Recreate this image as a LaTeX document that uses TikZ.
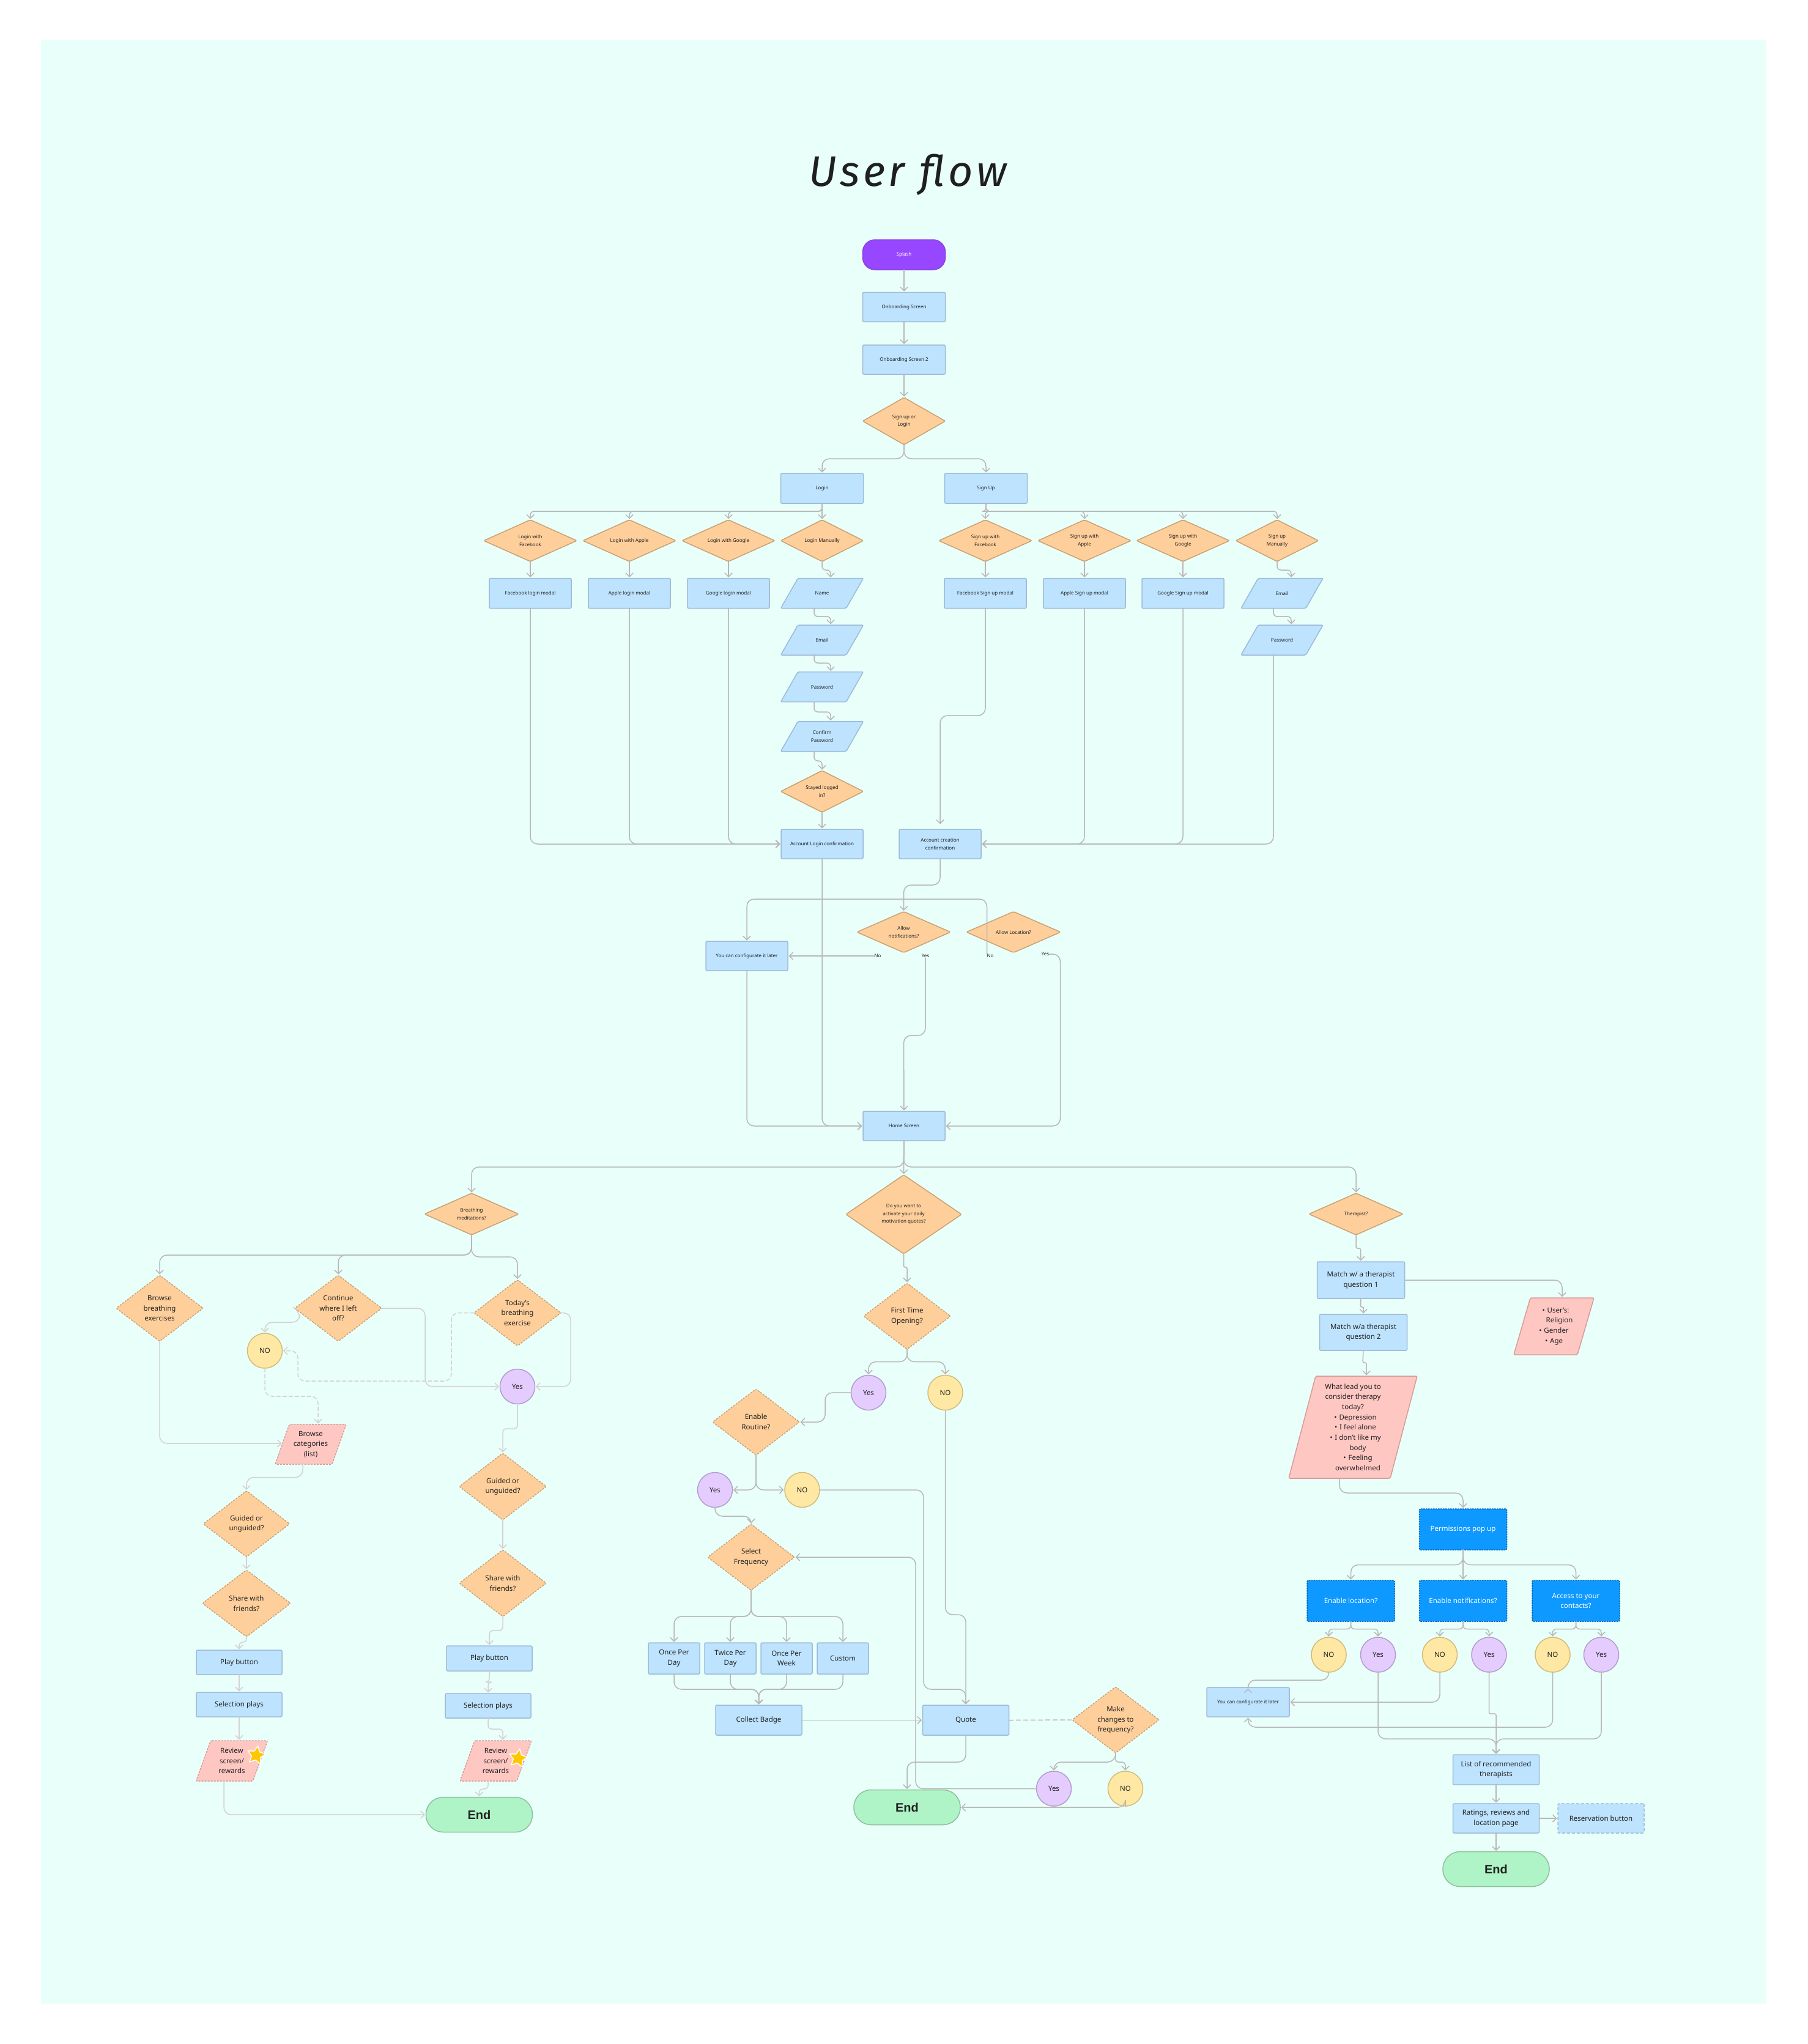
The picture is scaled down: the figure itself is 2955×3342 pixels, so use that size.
\documentclass[tikz,border=0pt]{standalone}
\usepackage{fontspec}
\setmainfont{Noto Sans}
\newfontfamily\titlefont{Fira Sans}
\newfontfamily\endfont{Liberation Sans}
\usetikzlibrary{arrows.meta,shapes.geometric}
\definecolor{panel}{HTML}{E9FFFA}
\definecolor{boxf}{HTML}{BDE3FF}\definecolor{boxd}{HTML}{9DBBD8}
\definecolor{diaf}{HTML}{FFCF9B}\definecolor{diad}{HTML}{C9A272}
\definecolor{pinkf}{HTML}{FFC7C2}\definecolor{pinkd}{HTML}{D49C9A}
\definecolor{yelf}{HTML}{FFE8A3}\definecolor{yeld}{HTML}{D2BC78}
\definecolor{lavf}{HTML}{E4CCFF}\definecolor{lavd}{HTML}{B49CCC}
\definecolor{grnf}{HTML}{AFF4C6}\definecolor{grnd}{HTML}{8FC0A0}
\definecolor{purf}{HTML}{9747FF}\definecolor{purd}{HTML}{8A3FE0}
\definecolor{blu}{HTML}{0D99FF}\definecolor{blud}{HTML}{0068B8}
\definecolor{starc}{HTML}{FFC700}
\definecolor{ink}{HTML}{222222}
\definecolor{wire}{HTML}{B9B7B7}\definecolor{wirel}{HTML}{D4D1D1}
\tikzset{
 sz/.style 2 args={minimum width=#1pt,minimum height=#2pt},
 base/.style={inner sep=0pt,outer sep=0pt,align=center,text=ink,line width=1.5pt,line join=round},
 ts/.style={font=\fontsize{8}{12.5}\selectfont},
 tm/.style={font=\fontsize{11.5}{16.7}\selectfont},
 boxs/.style={base,ts,rectangle,rounded corners=2pt,fill=boxf,draw=boxd},
 boxm/.style={boxs,tm},
 boxdash/.style={boxm,dash pattern=on 5pt off 3pt},
 bluebox/.style={base,tm,rectangle,rounded corners=2pt,fill=blu,draw=blud,text=white,dash pattern=on 2.5pt off 1.5pt},
 dias/.style 2 args={base,ts,diamond,/utils/exec={\pgfmathsetmacro\myasp{#1/#2}},aspect=\myasp,minimum width=#1pt,minimum height=#2pt,rounded corners=2pt,fill=diaf,draw=diad},
 diam/.style 2 args={base,tm,diamond,/utils/exec={\pgfmathsetmacro\myasp{#1/#2}},aspect=\myasp,minimum width=#1pt,minimum height=#2pt,rounded corners=2pt,fill=diaf,draw=diad,dash pattern=on 3pt off 2pt},
 yesc/.style={base,tm,circle,minimum size=57pt,fill=lavf,draw=lavd},
 noc/.style={base,tm,circle,minimum size=57pt,fill=yelf,draw=yeld},
 endn/.style={base,font=\endfont\fontsize{20}{24}\selectfont\bfseries,rectangle,rounded corners=28pt,fill=grnf,draw=grnd,sz={174}{57}},
 parab/.style={fill=boxf,draw=boxd,line width=1.5pt,rounded corners=2pt},
 parap/.style={fill=pinkf,draw=pinkd,line width=1.5pt,rounded corners=2pt},
 parapd/.style={parap,dash pattern=on 3pt off 2pt},
 starn/.style={base,star,star points=5,star point ratio=2,minimum size=31pt,fill=starc,draw=white,rotate=-10},
 lab/.style={base,font=\fontsize{8}{10}\selectfont},
 conn/.style={draw=wire,line width=1.5pt,rounded corners=12pt,line cap=round,-{Straight Barb[length=6pt,width=12pt,line width=1.5pt]},shorten >=1.5pt},
 wig/.style={conn,rounded corners=6pt},
 tiny/.style={conn,rounded corners=2.5pt},
 connl/.style={conn,draw=wirel},
 wigl/.style={wig,draw=wirel},
 dashl/.style={connl,dash pattern=on 6pt off 4pt}
}
\newcommand\paranode[8][]{%
 \path[#2] ({#4-#6/2+#8},{#5-#7/2}) -- ({#4+#6/2},{#5-#7/2}) -- ({#4+#6/2-#8},{#5+#7/2}) -- ({#4-#6/2},{#5+#7/2}) -- cycle;
 \node[base,#1,sz={#6}{#7}] (#3) at (#4,#5) {\paratext};}
\newcommand\paratext{}
\begin{document}
\begin{tikzpicture}[x=1pt,y=-1pt]
\useasboundingbox (0,0) rectangle (2955,3342);
\fill[white] (0,0) rectangle (2955,3342);
\fill[panel] (67,66) rectangle (2888,3276);
\node[base,font=\titlefont\itshape\fontsize{70}{74}\selectfont\addfontfeature{LetterSpace=8},text=black!88] (title) at (1484,286) {User flow};
% ---------- top column
\node[base,ts,rectangle,rounded corners=20pt,fill=purf,draw=purd,text=white,sz={135}{49}] (splash) at (1478,416.5) {Splash};
\node[boxs,sz={135}{48}] (onb1) at (1478,502) {Onboarding Screen};
\node[boxs,sz={135}{48}] (onb2) at (1478,588) {Onboarding Screen 2};
\node[dias={135}{77}] (sign) at (1478,688.5) {Sign up or\\Login};
\node[boxs,sz={135}{49}] (login) at (1344,798.5) {Login};
\node[boxs,sz={135}{49}] (signup) at (1612,798.5) {Sign Up};
\node[dias={152}{68}] (dlf) at (867,884) {Login with\\Facebook};
\node[dias={152}{68}] (dla) at (1029,884) {Login with Apple};
\node[dias={152}{68}] (dlg) at (1191,884) {Login with Google};
\node[dias={135}{68}] (dlm) at (1344,884) {Login Manually};
\node[dias={152}{68}] (dsf) at (1611,884) {Sign up with\\Facebook};
\node[dias={152}{68}] (dsa) at (1773,884) {Sign up with\\Apple};
\node[dias={152}{68}] (dsg) at (1934,884) {Sign up with\\Google};
\node[dias={135}{68}] (dsm) at (2088,884) {Sign up\\Manually};
\node[boxs,sz={134}{49}] (blf) at (867,970) {Facebook login modal};
\node[boxs,sz={134}{49}] (bla) at (1029,970) {Apple login modal};
\node[boxs,sz={134}{49}] (blg) at (1191,970) {Google login modal};
\node[boxs,sz={134}{49}] (bsf) at (1611,970) {Facebook Sign up modal};
\node[boxs,sz={134}{49}] (bsa) at (1773,970) {Apple Sign up modal};
\node[boxs,sz={134}{49}] (bsg) at (1934,970) {Google Sign up modal};
\renewcommand\paratext{Name}\paranode[ts]{parab}{pname}{1344}{970}{135}{49}{28}
\renewcommand\paratext{Email}\paranode[ts]{parab}{pemail}{1344}{1046.5}{135}{49}{28}
\renewcommand\paratext{Password}\paranode[ts]{parab}{ppass}{1344}{1123}{135}{49}{28}
\renewcommand\paratext{Confirm\\Password}\paranode[ts]{parab}{pconf}{1344}{1204}{135}{49}{28}
\renewcommand\paratext{Email}\paranode[ts]{parab}{semail}{2096}{970}{134}{49}{28}
\renewcommand\paratext{Password}\paranode[ts]{parab}{spass}{2096}{1046.5}{134}{49}{28}
\node[dias={135}{68}] (stay) at (1344,1294) {Stayed logged\\in?};
\node[boxs,sz={134}{48}] (alog) at (1344,1380) {Account Login confirmation};
\node[boxs,sz={134}{48}] (acre) at (1537,1380) {Account creation\\confirmation};
\coordinate (acrein) at (1537,1349);
\node[dias={153}{67}] (anot) at (1477.5,1524) {Allow\\notifications?};
\node[dias={154}{67}] (aloc) at (1657,1524) {Allow Location?};
\node[boxs,sz={134}{48}] (cfg1) at (1221,1563) {You can configurate it later};
\node[lab] (no1) at (1435,1563) {No};
\node[lab] (yes1) at (1513,1563) {Yes};
\node[lab] (no2) at (1619,1563) {No};
\node[lab] (yes2) at (1709,1560) {Yes};
\node[boxs,sz={134}{48}] (home) at (1478,1841) {Home Screen};
% ---------- second level
\node[dias={154}{68}] (breath) at (771,1985) {Breathing\\meditations?};
\node[dias={189}{129}] (doyou) at (1477.5,1985.5) {Do you want to\\activate your daily\\motivation quotes?};
\node[dias={154}{68}] (ther) at (2217,1985) {Therapist?};
% ---------- left branch
\node[diam={142}{108}] (brow) at (261,2139) {Browse\\breathing\\exercises};
\node[diam={142}{108}] (cont) at (553,2139) {Continue\\where I left\\off?};
\node[diam={142}{108}] (today) at (846,2146.5) {Today's\\breathing\\exercise};
\node[noc] (nol) at (433,2208.5) {NO};
\node[yesc] (yesl) at (846,2267) {Yes};
\renewcommand\paratext{Browse\\categories\\(list)}\paranode[tm]{parapd}{cats}{508}{2361.5}{116}{65}{23}
\coordinate (catsin) at (462,2360);
\node[diam={141}{108}] (guil) at (403,2491.5) {Guided or\\unguided?};
\node[diam={144}{109}] (shal) at (403,2621.5) {Share with\\friends?};
\node[diam={142}{109}] (guir) at (822,2430.5) {Guided or\\unguided?};
\node[diam={142}{109}] (shar) at (822,2588.5) {Share with\\friends?};
\node[boxm,sz={140}{40}] (playl) at (391,2718) {Play button};
\node[boxm,sz={140}{40}] (sell) at (391,2787) {Selection plays};
\renewcommand\paratext{Review\\screen/\\rewards}\paranode[tm]{parapd}{revl}{379}{2879}{117}{66}{24}
\node[starn] (starl) at (419,2870) {};
\node[boxm,sz={140}{41}] (playr) at (800,2711.5) {Play button};
\node[boxm,sz={140}{40}] (selr) at (798,2789) {Selection plays};
\renewcommand\paratext{Review\\screen/\\rewards}\paranode[tm]{parapd}{revr}{810.5}{2879}{117}{66}{24}
\node[starn] (starr) at (847,2875) {};
\node[endn] (endl) at (783.5,2967) {End};
% ---------- middle branch
\node[diam={142}{108}] (first) at (1483,2152) {First Time\\Opening?};
\node[yesc] (yesm) at (1420,2277) {Yes};
\node[noc] (nom) at (1545.5,2277) {NO};
\node[diam={142}{108}] (routine) at (1236,2325) {Enable\\Routine?};
\node[yesc] (yesn) at (1169,2436) {Yes};
\node[noc] (non) at (1311.5,2436) {NO};
\node[diam={142}{108}] (freq) at (1228,2546) {Select\\Frequency};
\node[boxm,sz={84}{51}] (f1) at (1102,2711.5) {Once Per\\Day};
\node[boxm,sz={84}{51}] (f2) at (1194,2711.5) {Twice Per\\Day};
\node[boxm,sz={84}{51}] (f3) at (1286,2711.5) {Once Per\\Week};
\node[boxm,sz={84}{51}] (f4) at (1378,2711.5) {Custom};
\node[boxm,sz={141}{49}] (badge) at (1240.5,2812.5) {Collect Badge};
\node[boxm,sz={141}{49}] (quote) at (1579,2812.5) {Quote};
\node[diam={142}{108}] (make) at (1824,2812) {Make\\changes to\\frequency?};
\node[yesc] (yeso) at (1723,2924.5) {Yes};
\node[noc] (noo) at (1840,2924.5) {NO};
\node[endn] (endm) at (1483,2955) {End};
% ---------- right branch
\node[boxm,sz={143}{60}] (m1) at (2225,2093) {Match w/ a therapist\\question 1};
\node[boxm,sz={143}{59}] (m2) at (2229,2178.5) {Match w/a therapist\\question 2};
\renewcommand\paratext{\hspace*{6pt}•\,\,User's:\\\hspace*{18pt}Religion\\•\,\,Gender\\•\,\,Age}\paranode[tm]{parap}{users}{2540.5}{2168.5}{131}{93}{27}
\renewcommand\paratext{What lead you to\\consider therapy\\today?\\\hspace*{8pt}•\,\,Depression\\\hspace*{8pt}•\,\,I feel alone\\\hspace*{8pt}•\,\,I don't like my\\\hspace*{16pt}body\\\hspace*{16pt}•\,\,Feeling\\\hspace*{16pt}overwhelmed}\paranode[tm]{parap}{what}{2212}{2333.5}{210}{167}{44}
\node[bluebox,sz={143}{67}] (perm) at (2392,2500.5) {Permissions pop up};
\node[bluebox,sz={143}{67}] (eloc) at (2208.5,2617.5) {Enable location?};
\node[bluebox,sz={143}{67}] (enot) at (2392,2617.5) {Enable notifications?};
\node[bluebox,sz={143}{67}] (econ) at (2576.5,2617.5) {Access to your\\contacts?};
\node[noc] (nop1) at (2172.5,2705.5) {NO};
\node[yesc] (yesp1) at (2253,2705.5) {Yes};
\node[noc] (nop2) at (2354,2705.5) {NO};
\node[yesc] (yesp2) at (2434.5,2705.5) {Yes};
\node[noc] (nop3) at (2538.5,2705.5) {NO};
\node[yesc] (yesp3) at (2618,2705.5) {Yes};
\node[boxs,sz={135}{48}] (cfg2) at (2040.5,2783) {You can configurate it later};
\node[boxm,sz={141}{49}] (list) at (2446,2893.5) {List of recommended\\therapists};
\node[boxm,sz={141}{48}] (rate) at (2446,2973) {Ratings, reviews and\\location page};
\node[boxdash,sz={141}{48}] (resv) at (2617.5,2973) {Reservation button};
\node[endn] (endr) at (2446,3056) {End};
% ========== connectors: top
\draw[conn] (splash) -- (onb1);
\draw[conn] (onb1) -- (onb2);
\draw[conn] (onb2) -- (sign);
\draw[conn] (sign.south) -- (1478,750) -- (1344,750) -- (login.north);
\draw[conn] (sign.south) -- (1478,750) -- (1612,750) -- (signup.north);
\foreach \t in {dlf,dla,dlg}{\draw[wig] (login.south) -- (1344,836) -- (\t.north |- 0,836) -- (\t.north);}
\draw[conn] (login) -- (dlm);
\draw[wig] (signup.south) -- (1612,836) -- (1611,836) -- (dsf.north);
\foreach \t in {dsa,dsg,dsm}{\draw[wig] (signup.south) -- (1612,836) -- (\t.north |- 0,836) -- (\t.north);}
\foreach \a/\b in {dlf/blf,dla/bla,dlg/blg,dsf/bsf,dsa/bsa,dsg/bsg}{\draw[conn] (\a) -- (\b);}
\draw[wig] (dlm.south) -- (1344,932) -- (1358,932) -- (1358,0 |- pname.north);
\draw[wig] (1331,0 |- pname.south) -- (1331,1008) -- (1358,1008) -- (1358,0 |- pemail.north);
\draw[wig] (1331,0 |- pemail.south) -- (1331,1084) -- (1358,1084) -- (1358,0 |- ppass.north);
\draw[wig] (1331,0 |- ppass.south) -- (1331,1164) -- (1358,1164) -- (1358,0 |- pconf.north);
\draw[wig] (1331,0 |- pconf.south) -- (1331,1244) -- (1344,1244) -- (stay.north);
\draw[conn] (stay) -- (alog);
\draw[wig] (dsm.south) -- (2088,932) -- (2111,932) -- (2111,0 |- semail.north);
\draw[wig] (2082,0 |- semail.south) -- (2082,1008) -- (2111,1008) -- (2111,0 |- spass.north);
\draw[conn] (2082,0 |- spass.south) -- (2082,1380) -- (acre.east);
\foreach \t in {blf,bla,blg}{\draw[conn] (\t.south) -- (\t.south |- alog.west) -- (alog.west);}
\foreach \t in {bsa,bsg}{\draw[conn] (\t.south) -- (\t.south |- acre.east) -- (acre.east);}
\draw[conn] (bsf.south) -- (1611,1170) -- (1537,1170) -- (acrein);
\draw[conn] (acre.south) -- (1537,1447) -- (1477.5,1447) -- (anot.north);
\draw[conn] (no2.north west) -- (1613.5,1470) -- (1221,1470) -- (cfg1.north);
\draw[conn] (no1.west) -- (cfg1.east);
\draw[conn] (yes1.south) -- (1513,1693) -- (1477.5,1693) -- (home.north);
\draw[conn] (yes2.east) -- (1733.5,1560) -- (1733.5,1841) -- (home.east);
\draw[conn] (cfg1.south) -- (1221,1841) -- (home.west);
\draw[conn] (alog.south) -- (1344,1841) -- (home.west);
% second level
\draw[conn] (home.south) -- (1477.5,1908) -- (771,1908) -- (breath.north);
\draw[conn] (home.south) -- (doyou.north);
\draw[conn] (home.south) -- (1477.5,1908) -- (2217,1908) -- (ther.north);
\draw[tiny] (doyou.south) -- (1477.5,2072) -- (1483,2072) -- (first.north);
% left branch
\draw[conn] (breath.south) -- (771,2052) -- (261,2052) -- (brow.north);
\draw[conn] (breath.south) -- (771,2052) -- (553,2052) -- (cont.north);
\draw[conn] (breath.south) -- (771,2055) -- (846,2055) -- (today.north);
\draw[connl] (cont.west) -- (490,2143) -- (490,2162) -- (433,2162) -- (nol.north);
\draw[connl] (cont.east) -- (695,2139) -- (695,2267) -- (yesl.west);
\draw[connl] (today.east) -- (933,2146.5) -- (933,2267) -- (yesl.east);
\draw[dashl] (today.west) -- (738,2146.5) -- (738,2258) -- (487,2258) -- (487,2208.5) -- (nol.east);
\draw[dashl] (nol.south) -- (433,2283) -- (520,2283) -- (520,0 |- cats.north);
\draw[connl] (brow.south) -- (261,2360) -- (catsin);
\draw[connl] (495,0 |- cats.south) -- (495,2415.5) -- (403,2415.5) -- (guil.north);
\draw[connl] (guil) -- (shal);
\draw[wigl] (shal.south) -- (403,2685) -- (391,2685) -- (playl.north);
\draw[connl] (playl) -- (sell);
\draw[connl] (sell.south) -- (391,0 |- revl.north);
\draw[connl] (366,0 |- revl.south) -- (366,2967) -- (endl.west);
\draw[wigl] (yesl.south) -- (846,2336) -- (822,2336) -- (guir.north);
\draw[connl] (guir) -- (shar);
\draw[wigl] (shar.south) -- (822,2666) -- (800,2666) -- (playr.north);
\draw[wigl] (playr.south) -- (800,2750) -- (798,2750) -- (selr.north);
\draw[wigl] (selr.south) -- (798,2827) -- (822,2827) -- (822,0 |- revr.north);
\draw[wigl] (798,0 |- revr.south) -- (798,2925) -- (783.5,2925) -- (endl.north);
% middle branch
\draw[conn] (first.south) -- (1483,2226.5) -- (1420,2226.5) -- (yesm.north);
\draw[conn] (first.south) -- (1483,2226.5) -- (1545.5,2226.5) -- (nom.north);
\draw[conn] (yesm.west) -- (1349,2277) -- (1349,2325) -- (routine.east);
\draw[conn] (routine.south) -- (1236,2436) -- (yesn.east);
\draw[conn] (routine.south) -- (1236,2436) -- (non.west);
\draw[conn] (yesn.south) -- (1169,2479) -- (1228,2479) -- (freq.north);
\draw[conn] (non.east) -- (1510,2436) -- (1510,2762) -- (1579,2762) -- (quote.north);
\draw[conn] (nom.south) -- (1545.5,2640) -- (1579,2640) -- (quote.north);
\foreach \t in {f1,f2,f3,f4}{
 \draw[conn] (freq.south) -- (1228,2643) -- (\t.north |- 0,2643) -- (\t.north);
 \draw[conn] (\t.south) -- (\t.south |- 0,2762) -- (1240.5,2762) -- (badge.north);}
\draw[conn] (badge) -- (quote);
\draw[conn,dash pattern=on 7pt off 5pt,-] (quote.east) -- (make.west);
\draw[conn] (quote.south) -- (1579,2881) -- (1483,2881) -- (endm.north);
\draw[conn] (make.south) -- (1823,2881) -- (1723,2881) -- (yeso.north);
\draw[wig] (make.south) -- (1823,2881) -- (1840,2881) -- (noo.north);
\draw[conn] (yeso.west) -- (1497,2924.5) -- (1497,2546) -- (freq.east);
\draw[conn] (noo.south) -- (1840,2955) -- (endm.east);
% right branch
\draw[tiny] (ther.south) -- (2217,2041) -- (2224.5,2041) -- (m1.north);
\draw[conn] (m1.east) -- (2554,2093) -- (2554,0 |- users.north);
\draw[tiny] (m1.south) -- (2224.5,2137) -- (2229,2137) -- (m2.north);
\draw[tiny] (m2.south) -- (2228,2228) -- (2234,2228) -- (2234,0 |- what.north);
\draw[conn] (2190,0 |- what.south) -- (2190,2441) -- (2392,2441) -- (perm.north);
\draw[conn] (perm.south) -- (2392,2558.5) -- (2208.5,2558.5) -- (eloc.north);
\draw[conn] (perm) -- (enot);
\draw[conn] (perm.south) -- (2392,2558.5) -- (2576.5,2558.5) -- (econ.north);
\draw[wig] (eloc.south) -- (2208.5,2663.5) -- (2172.5,2663.5) -- (nop1.north);
\draw[wig] (eloc.south) -- (2208.5,2663.5) -- (2253,2663.5) -- (yesp1.north);
\draw[wig] (enot.south) -- (2392,2663.5) -- (2354,2663.5) -- (nop2.north);
\draw[wig] (enot.south) -- (2392,2663.5) -- (2434.5,2663.5) -- (yesp2.north);
\draw[wig] (econ.south) -- (2576.5,2663.5) -- (2538.5,2663.5) -- (nop3.north);
\draw[wig] (econ.south) -- (2576.5,2663.5) -- (2618,2663.5) -- (yesp3.north);
\draw[conn] (nop1.south) -- (2172.5,2747) -- (2040.5,2747) -- (cfg2.north);
\draw[conn] (nop2.south) -- (2354,2783) -- (cfg2.east);
\draw[conn] (nop3.south) -- (2538.5,2824) -- (2040.5,2824) -- (cfg2.south);
\draw[conn] (yesp1.south) -- (2253,2843) -- (2446,2843) -- (list.north);
\draw[tiny] (yesp2.south) -- (2434.5,2802) -- (2446,2802) -- (list.north);
\draw[conn] (yesp3.south) -- (2618,2843) -- (2446,2843) -- (list.north);
\draw[conn] (list) -- (rate);
\draw[conn] (rate) -- (resv);
\draw[conn] (rate) -- (endr);
\end{tikzpicture}
\end{document}
